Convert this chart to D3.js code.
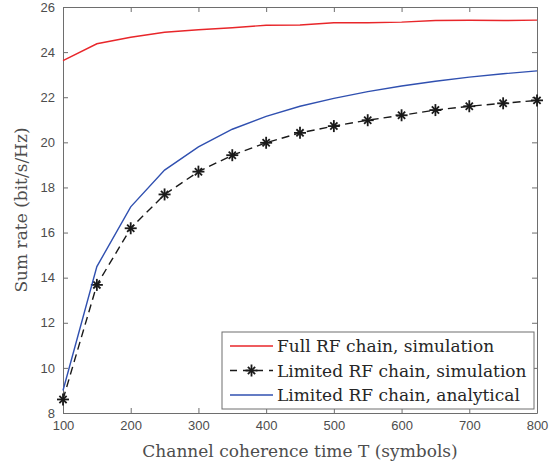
<!DOCTYPE html>
<html>
<head>
<meta charset="utf-8">
<script src="https://cdn.jsdelivr.net/npm/d3@7"></script>
<style>
  body { margin: 0; background: #fff; }
  .tick text { font-family: "Liberation Sans", Arial, sans-serif; font-size: 13px; fill: #4d4d4d; }
  .serif { font-family: "DejaVu Serif", "Liberation Serif", serif; }
</style>
</head>
<body>
<div id="chart"></div>
<script>
const width = 560;
const height = 466;
const margin = { top: 7, right: 23, bottom: 53, left: 63 };

// Data
const coherenceT = [100, 150, 200, 250, 300, 350, 400, 450, 500, 550, 600, 650, 700, 750, 800];
const fullSim = [23.62, 24.37, 24.66, 24.88, 24.99, 25.08, 25.19, 25.2, 25.3, 25.3, 25.33, 25.4, 25.41, 25.4, 25.42];
const limitedSim = [8.6, 13.68, 16.19, 17.69, 18.7, 19.43, 19.98, 20.42, 20.72, 20.98, 21.2, 21.43, 21.6, 21.73, 21.86];
const limitedAna = [9.0, 14.49, 17.14, 18.77, 19.8, 20.58, 21.15, 21.6, 21.95, 22.25, 22.5, 22.71, 22.89, 23.04, 23.17];
const xTicks = [100, 200, 300, 400, 500, 600, 700, 800];
const yTicks = [8, 10, 12, 14, 16, 18, 20, 22, 24, 26];

const series = [
  { name: "Full RF chain, simulation", values: fullSim, color: "#e8262a", dash: null, marker: false },
  { name: "Limited RF chain, simulation", values: limitedSim, color: "#1a1a1a", dash: "8,5", marker: true },
  { name: "Limited RF chain, analytical", values: limitedAna, color: "#3050b0", dash: null, marker: false }
];

const pw = width - margin.left - margin.right;
const ph = height - margin.top - margin.bottom;

let x = d3.scaleLinear().domain([100, 800]).range([0, pw]);
let y = d3.scaleLinear().domain([8, 26]).range([ph, 0]);

let svg = d3.select("#chart").append("svg")
  .attr("width", width)
  .attr("height", height);

let g = svg.append("g").attr("transform", `translate(${margin.left},${margin.top})`);

// Axes with inward ticks, box on all sides
const axisColor = "#6e6e6e";
let styleAxis = sel => {
  sel.select(".domain").attr("stroke", axisColor);
  sel.selectAll(".tick line").attr("stroke", axisColor);
};

g.append("g").attr("transform", `translate(0,${ph})`)
  .call(d3.axisBottom(x).tickValues(xTicks).tickSizeInner(-5).tickSizeOuter(0).tickPadding(8))
  .call(styleAxis);
g.append("g")
  .call(d3.axisLeft(y).tickValues(yTicks).tickSizeInner(-5).tickSizeOuter(0).tickPadding(8))
  .call(styleAxis);
g.append("g")
  .call(d3.axisTop(x).tickValues(xTicks).tickSizeInner(-5).tickSizeOuter(0).tickFormat(""))
  .call(styleAxis);
g.append("g").attr("transform", `translate(${pw},0)`)
  .call(d3.axisRight(y).tickValues(yTicks).tickSizeInner(-5).tickSizeOuter(0).tickFormat(""))
  .call(styleAxis);

// Asterisk marker (plus + cross, MATLAB style)
function asterisk(sel, cx, cy, r) {
  let a = sel.append("g").attr("transform", `translate(${cx},${cy})`);
  [0, 45, 90, 135].forEach(ang => {
    let rad = ang * Math.PI / 180;
    let rr = ang % 90 === 0 ? r : r * 0.85;
    a.append("line")
      .attr("x1", -rr * Math.sin(rad)).attr("y1", -rr * Math.cos(rad))
      .attr("x2", rr * Math.sin(rad)).attr("y2", rr * Math.cos(rad))
      .attr("stroke", "#1a1a1a").attr("stroke-width", 1.8);
  });
}

let line = d3.line().x((d, i) => x(coherenceT[i])).y(d => y(d));

series.forEach(s => {
  g.append("path")
    .datum(s.values)
    .attr("fill", "none")
    .attr("stroke", s.color)
    .attr("stroke-width", 1.4)
    .attr("stroke-dasharray", s.dash)
    .attr("d", line);
  if (s.marker) {
    s.values.forEach((v, i) => asterisk(g, x(coherenceT[i]), y(v), 6));
  }
});

// Legend
let lx = 222, ly = 332, lw = 312, lh = 77;
let legend = svg.append("g");
legend.append("rect")
  .attr("x", lx).attr("y", ly).attr("width", lw).attr("height", lh)
  .attr("fill", "#fff").attr("stroke", axisColor).attr("stroke-width", 1);
series.forEach((s, i) => {
  let yy = ly + 14 + i * 24.5;
  legend.append("line")
    .attr("x1", lx + 8).attr("x2", lx + 51).attr("y1", yy).attr("y2", yy)
    .attr("stroke", s.color).attr("stroke-width", 1.4)
    .attr("stroke-dasharray", s.dash ? "7,6" : null);
  if (s.marker) asterisk(legend, lx + 29.5, yy, 6);
  legend.append("text")
    .attr("class", "serif")
    .attr("x", lx + 55).attr("y", yy + 6)
    .attr("font-size", 17)
    .attr("fill", "#262626")
    .text(s.name);
});

// Axis labels
svg.append("text")
  .attr("class", "serif")
  .attr("x", margin.left + pw / 2).attr("y", 457)
  .attr("text-anchor", "middle")
  .attr("font-size", 17)
  .attr("fill", "#4d4d4d")
  .text("Channel coherence time T (symbols)");

svg.append("text")
  .attr("class", "serif")
  .attr("transform", `translate(27,${margin.top + ph / 2}) rotate(-90)`)
  .attr("text-anchor", "middle")
  .attr("font-size", 17)
  .attr("fill", "#4d4d4d")
  .text("Sum rate (bit/s/Hz)");
</script>
</body>
</html>
